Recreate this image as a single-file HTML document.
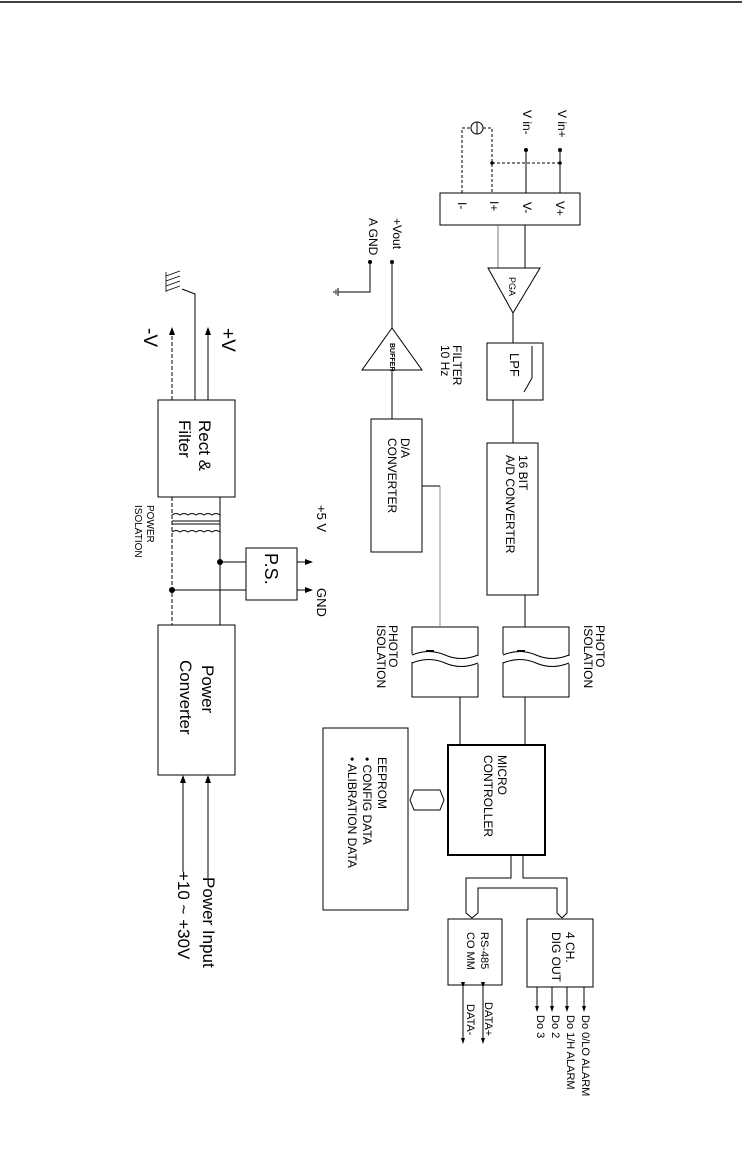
<!DOCTYPE html>
<html><head><meta charset="utf-8"><style>html,body{margin:0;padding:0;background:#fff}svg{display:block}text{font-family:"Liberation Sans",sans-serif;fill:#000}</style></head><body>
<svg width="742" height="1152" viewBox="0 0 742 1152" xmlns="http://www.w3.org/2000/svg">
<defs><marker id="a" markerWidth="8" markerHeight="8" refX="7" refY="4" orient="auto" markerUnits="userSpaceOnUse"><path d="M0,1 L8,4 L0,7 Z" fill="#000"/></marker>
<marker id="s" markerWidth="6" markerHeight="6" refX="5" refY="3" orient="auto" markerUnits="userSpaceOnUse"><path d="M0,1 L6,3 L0,5 Z" fill="#000"/></marker></defs>
<g stroke="#000" fill="none" stroke-width="1">
<line x1="0" y1="2" x2="742" y2="2" stroke-width="1.5"/>
<rect x="440" y="193" width="140" height="32"/>
<line x1="526" y1="150" x2="526" y2="193"/><line x1="560" y1="150" x2="560" y2="193"/>
<g stroke-dasharray="3,2"><polyline points="462,193 462,128 471,128"/><polyline points="483,128 492,128 492,193"/><line x1="492" y1="163" x2="560" y2="163"/></g>
<circle cx="477" cy="128" r="6"/><line x1="477" y1="122" x2="477" y2="134"/>
<line x1="498" y1="225" x2="498" y2="268" stroke="#777"/><line x1="525" y1="225" x2="525" y2="268"/>
<polygon points="488,268 540,268 513,313"/>
<line x1="513" y1="313" x2="513" y2="343"/>
<rect x="487" y="343" width="56" height="57"/>
<polyline points="532,346 532,378 524,392"/>
<line x1="513" y1="400" x2="513" y2="443"/>
<rect x="487" y="443" width="51" height="152"/>
<line x1="525" y1="595" x2="525" y2="627"/>
<path d="M503,627 H569 V697 H503 Z"/><path d="M412,627 H478 V697 H412 Z"/>
<g fill="#fff"><path d="M500,655 Q520,648 536,655 Q552,662 572,655 V663 Q552,670 536,663 Q520,656 500,663 Z" stroke="none"/><path d="M409,655 Q429,648 445,655 Q461,662 481,655 V663 Q461,670 445,663 Q429,656 409,663 Z" stroke="none"/></g>
<path d="M503,655 Q520,648 536,655 Q552,662 569,655"/><path d="M503,663 Q520,656 536,663 Q552,670 569,663"/>
<path d="M412,655 Q429,648 445,655 Q461,662 478,655"/><path d="M412,663 Q429,656 445,663 Q461,670 478,663"/>
<line x1="517" y1="651" x2="525" y2="651" stroke-width="2"/><line x1="426" y1="651" x2="434" y2="651" stroke-width="2"/>
<line x1="525" y1="697" x2="525" y2="745"/><line x1="460" y1="697" x2="460" y2="745"/>
<rect x="448" y="745" width="97" height="110" stroke-width="2"/>
<polygon points="392,328 362,370 422,370"/>
<line x1="392" y1="262" x2="392" y2="328"/><line x1="392" y1="370" x2="392" y2="419"/>
<rect x="371" y="419" width="51" height="133"/>
<line x1="422" y1="486" x2="440" y2="486"/><line x1="440" y1="486" x2="440" y2="627" stroke="#888"/>
<polyline points="370,262 370,292 338,292"/>
<line x1="338" y1="288" x2="338" y2="296"/><line x1="336" y1="289.5" x2="336" y2="294.5"/><line x1="334" y1="291" x2="334" y2="293"/>
<rect x="323" y="728" width="85" height="182"/>
<polygon points="410,800 414,790 440,790 444,800 440,810 414,810"/>
<polyline points="511,855 511,878 466,878 466,913 472,918"/>
<polyline points="478,913 478,888 557,888 557,913 562,918"/>
<polyline points="523,855 523,878 567,878 567,913 562,918"/>
<line x1="478" y1="913" x2="472" y2="918"/>
<rect x="448" y="919" width="54" height="66"/>
<rect x="527" y="919" width="66" height="68"/>
<line x1="463" y1="987" x2="463" y2="1043" marker-start="url(#s)" marker-end="url(#s)"/>
<line x1="483" y1="987" x2="483" y2="1043" marker-start="url(#s)" marker-end="url(#s)"/>
<line x1="537" y1="987" x2="537" y2="1011" marker-end="url(#s)"/>
<line x1="552" y1="987" x2="552" y2="1011" marker-end="url(#s)"/>
<line x1="567" y1="987" x2="567" y2="1011" marker-end="url(#s)"/>
<line x1="584" y1="987" x2="584" y2="1011" marker-end="url(#s)"/>
<rect x="158" y="400" width="77" height="97"/>
<rect x="158" y="625" width="77" height="150"/>
<line x1="172" y1="400" x2="172" y2="328" stroke-dasharray="4,2" marker-end="url(#a)"/>
<line x1="208" y1="400" x2="208" y2="328" marker-end="url(#a)"/>
<polyline points="195,400 195,294 182,289"/>
<g stroke-width="0.8"><line x1="166" y1="272" x2="166" y2="292"/><line x1="166" y1="276" x2="180" y2="271"/><line x1="166" y1="281" x2="180" y2="276"/><line x1="166" y1="286" x2="180" y2="281"/><line x1="166" y1="291" x2="180" y2="286"/></g>
<line x1="172" y1="497" x2="172" y2="625" stroke-dasharray="4,2"/>
<line x1="220" y1="497" x2="220" y2="625"/>
<path d="M172,515 q4,-3 8,0 q4,-3 8,0 q4,-3 8,0 q4,-3 8,0 q4,-3 8,0 q4,-3 8,0"/>
<path d="M172,532 q4,-3 8,0 q4,-3 8,0 q4,-3 8,0 q4,-3 8,0 q4,-3 8,0 q4,-3 8,0"/>
<line x1="172" y1="521" x2="220" y2="521"/><line x1="172" y1="524" x2="220" y2="524"/>
<rect x="246" y="548" width="51" height="52"/>
<line x1="220" y1="562" x2="246" y2="562"/><line x1="172" y1="590" x2="246" y2="590"/>
<line x1="297" y1="562" x2="312" y2="562" marker-end="url(#a)"/><line x1="297" y1="590" x2="312" y2="590" marker-end="url(#a)"/>
<line x1="183" y1="872" x2="183" y2="776" marker-end="url(#a)"/>
<line x1="208" y1="878" x2="208" y2="776" marker-end="url(#a)"/>
</g>
<g fill="#000"><circle cx="526" cy="150" r="2"/><circle cx="560" cy="150" r="2"/><circle cx="492" cy="163" r="1.8"/><circle cx="560" cy="163" r="1.8"/><circle cx="392" cy="262" r="2"/><circle cx="370" cy="262" r="2"/><circle cx="220" cy="562" r="3"/><circle cx="172" cy="590" r="3"/></g>
<g font-size="12">
<text transform="translate(523,110) rotate(90)">V in-</text>
<text transform="translate(558,110) rotate(90)">V in+</text>
<text transform="translate(458,202) rotate(90)">I-</text>
<text transform="translate(490,201) rotate(90)">I+</text>
<text transform="translate(523,202) rotate(90)">V-</text>
<text transform="translate(556,201) rotate(90)">V+</text>
<text transform="translate(509,277) rotate(90)" font-size="9">PGA</text>
<text transform="translate(510,353) rotate(90)" font-size="13">LPF</text>
<text transform="translate(453,345) rotate(90)">FILTER</text>
<text transform="translate(441,345) rotate(90)">10 Hz</text>
<text transform="translate(519,455) rotate(90)">16 BIT</text>
<text transform="translate(506,455) rotate(90)">A/D CONVERTER</text>
<text transform="translate(401,438) rotate(90)">D/A</text>
<text transform="translate(388,438) rotate(90)">CONVERTER</text>
<text transform="translate(390,343) rotate(90)" font-size="7" font-weight="bold">BUFFER</text>
<text transform="translate(393,218) rotate(90)">+Vout</text>
<text transform="translate(369,218) rotate(90)">A GND</text>
<text transform="translate(596,625) rotate(90)">PHOTO</text>
<text transform="translate(584,625) rotate(90)">ISOLATION</text>
<text transform="translate(389,625) rotate(90)">PHOTO</text>
<text transform="translate(377,625) rotate(90)">ISOLATION</text>
<text transform="translate(498,755) rotate(90)">MICRO</text>
<text transform="translate(484,755) rotate(90)">CONTROLLER</text>
<text transform="translate(378,757) rotate(90)">EEPROM</text>
<text transform="translate(363,757) rotate(90)">• CONFIG DATA</text>
<text transform="translate(348,757) rotate(90)">• ALIBRATION DATA</text>
<text transform="translate(566,932) rotate(90)">4 CH.</text>
<text transform="translate(552,932) rotate(90)">DIG OUT</text>
<text transform="translate(481,932) rotate(90)" font-size="11">RS-485</text>
<text transform="translate(467,932) rotate(90)" font-size="11">CO MM</text>
<text transform="translate(485,1002) rotate(90)" font-size="11">DATA+</text>
<text transform="translate(467,1004) rotate(90)" font-size="11">DATA-</text>
<text transform="translate(582,1015) rotate(90)" font-size="11">Do 0/LO ALARM</text>
<text transform="translate(567,1015) rotate(90)" font-size="11">Do 1/H ALARM</text>
<text transform="translate(552,1015) rotate(90)" font-size="11">Do 2</text>
<text transform="translate(537,1015) rotate(90)" font-size="11">Do 3</text>
<text transform="translate(144,328) rotate(90)" font-size="19">-V</text>
<text transform="translate(222,328) rotate(90)" font-size="19">+V</text>
<text transform="translate(199,420) rotate(90)" font-size="17">Rect &amp;</text>
<text transform="translate(179,420) rotate(90)" font-size="17">Filter</text>
<text transform="translate(147,505) rotate(90)" font-size="10">POWER</text>
<text transform="translate(135,505) rotate(90)" font-size="10">ISOLATION</text>
<text transform="translate(265,553) rotate(90)" font-size="18">P.S.</text>
<text transform="translate(317,505) rotate(90)" font-size="13">+5 V</text>
<text transform="translate(317,588) rotate(90)" font-size="13">GND</text>
<text transform="translate(202,665) rotate(90)" font-size="17">Power</text>
<text transform="translate(180,660) rotate(90)" font-size="17">Converter</text>
<text transform="translate(203,877) rotate(90)" font-size="17">Power Input</text>
<text transform="translate(178,871) rotate(90)" font-size="17">+10 ~ +30V</text>
</g>
</svg>
</body></html>
